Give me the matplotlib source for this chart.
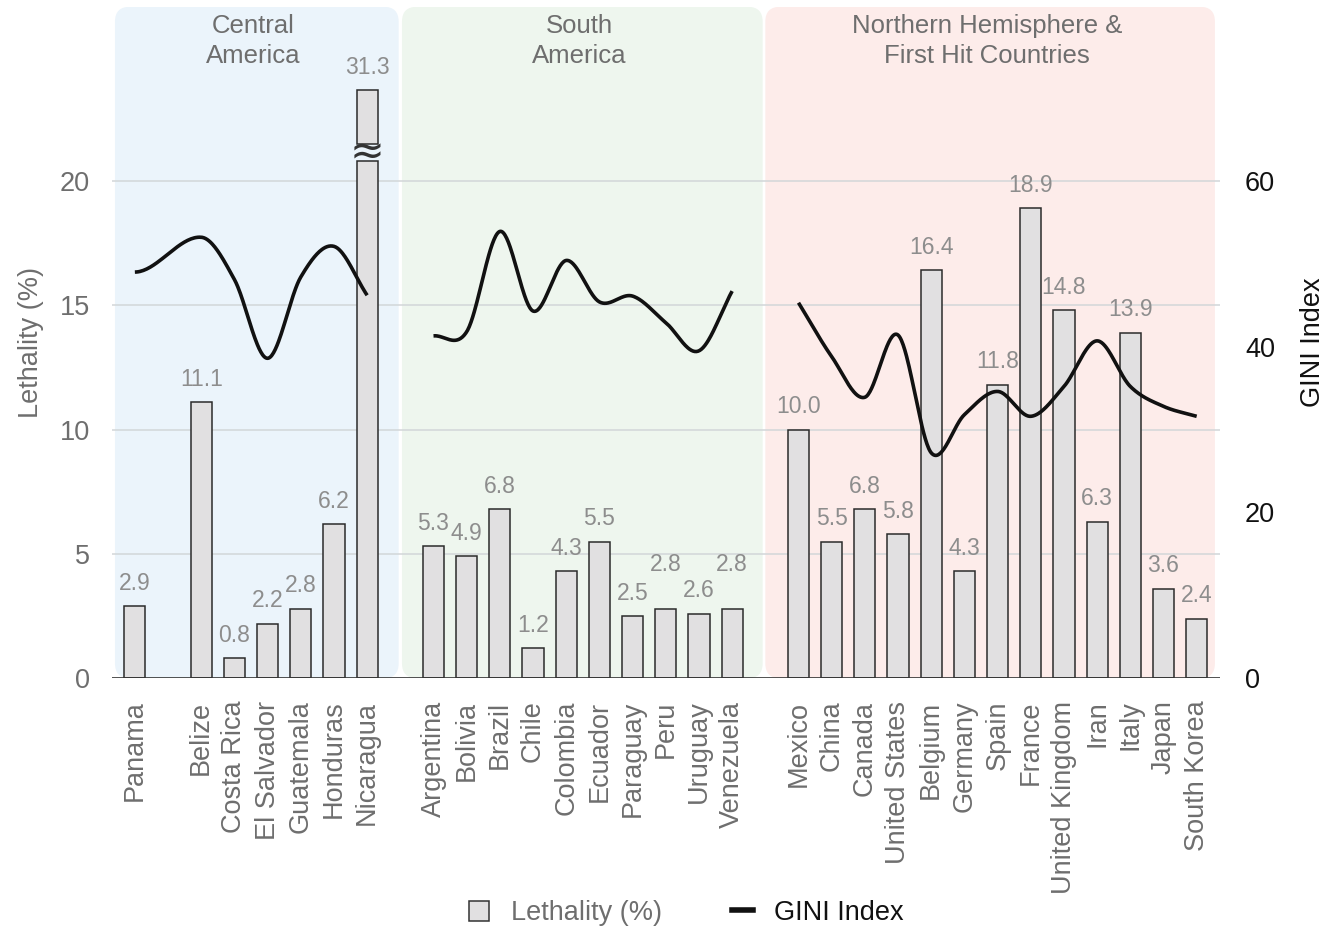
import numpy as np
import matplotlib.pyplot as plt
from matplotlib.patches import FancyBboxPatch, Patch
from matplotlib.lines import Line2D
from matplotlib.transforms import blended_transform_factory

plt.rcParams['font.family'] = ['Liberation Sans', 'DejaVu Sans']

# --- data ---
central = ['Panama', 'Belize', 'Costa Rica', 'El Salvador', 'Guatemala', 'Honduras', 'Nicaragua']
central_leth = [2.9, 11.1, 0.8, 2.2, 2.8, 6.2, 31.3]
central_gini = [49.0, 53.2, 48.1, 38.6, 48.4, 52.1, 46.2]

south = ['Argentina', 'Bolivia', 'Brazil', 'Chile', 'Colombia', 'Ecuador',
         'Paraguay', 'Peru', 'Uruguay', 'Venezuela']
south_leth = [5.3, 4.9, 6.8, 1.2, 4.3, 5.5, 2.5, 2.8, 2.6, 2.8]
south_gini = [41.3, 41.8, 53.9, 44.3, 50.4, 45.4, 46.1, 42.9, 39.5, 46.7]

north = ['Mexico', 'China', 'Canada', 'United States', 'Belgium', 'Germany', 'Spain',
         'France', 'United Kingdom', 'Iran', 'Italy', 'Japan', 'South Korea']
north_leth = [10.0, 5.5, 6.8, 5.8, 16.4, 4.3, 11.8, 18.9, 14.8, 6.3, 13.9, 3.6, 2.4]
north_gini = [45.3, 38.8, 33.9, 41.4, 27.2, 31.8, 34.6, 31.6, 35.2, 40.7, 35.2, 32.8, 31.6]

group_titles = ['Central\nAmerica', 'South\nAmerica', 'Northern Hemisphere &\nFirst Hit Countries']

# slot of each bar on the category axis (empty slots separate the groups)
central_x = np.array([0, 2, 3, 4, 5, 6, 7])
south_x = np.arange(9, 19)
north_x = np.arange(20, 33)

# panel spans and colours
panels = [(-0.6, 7.95, '#ebf4fb'), (8.05, 18.92, '#eef6ee'), (19.0, 32.55, '#fdecea')]

# broken bar for values beyond the scale
BREAK_LO, BREAK_HI, BREAK_TOP = 20.8, 21.5, 23.65

GREY_TXT = '#6e6e6e'
VAL_TXT = '#8d8d8d'


def smooth(xs, ys, flat_start=False, n=40):
    # cubic Hermite curve through the points (Catmull-Rom tangents)
    xs = np.asarray(xs, float)
    ys = np.asarray(ys, float)
    m = np.zeros(len(xs))
    m[1:-1] = (ys[2:] - ys[:-2]) / (xs[2:] - xs[:-2])
    m[0] = 0 if flat_start else (ys[1] - ys[0]) / (xs[1] - xs[0])
    m[-1] = (ys[-1] - ys[-2]) / (xs[-1] - xs[-2])
    px, py = [], []
    t = np.linspace(0, 1, n)
    h00 = 2 * t**3 - 3 * t**2 + 1
    h10 = t**3 - 2 * t**2 + t
    h01 = -2 * t**3 + 3 * t**2
    h11 = t**3 - t**2
    for i in range(len(xs) - 1):
        h = xs[i + 1] - xs[i]
        px.append(xs[i] + t * h)
        py.append(h00 * ys[i] + h10 * h * m[i] + h01 * ys[i + 1] + h11 * h * m[i + 1])
    return np.concatenate(px), np.concatenate(py)


fig = plt.figure(figsize=(13.41, 9.26), dpi=100)
ax = fig.add_axes([0.0835, 0.2675, 0.8262, 0.7252])
ax2 = ax.twinx()

ax.set_xlim(-0.69, 32.70)
ax.set_ylim(0, 27)
ax2.set_ylim(0, 81)

# background panels
for x0, x1, col in panels:
    p = FancyBboxPatch((x0, 0), x1 - x0, 27, boxstyle='round,pad=0,rounding_size=0.45',
                       mutation_aspect=1.33, fc=col, ec='none', zorder=0)
    ax.add_patch(p)

for gy in [5, 10, 15, 20]:
    ax.axhline(gy, color='#d2d6d8', lw=1.1, zorder=1)
ax.axhline(0, color='#333333', lw=1.2, zorder=4)

names = central + south + north
leth = np.array(central_leth + south_leth + north_leth)
xpos = np.concatenate([central_x, south_x, north_x])

bw = 0.64
shown = np.where(leth > BREAK_LO, BREAK_LO, leth)
ax.bar(xpos, shown, width=bw, color='#e1e0e1', edgecolor='#2b2b2b', linewidth=1.1, zorder=2)
big = leth > BREAK_TOP
if big.any():
    ax.bar(xpos[big], BREAK_TOP - BREAK_HI, bottom=BREAK_HI, width=bw, color='#e1e0e1',
           edgecolor='#2b2b2b', linewidth=1.1, zorder=2)
    for bx in xpos[big]:
        ax.text(bx, (BREAK_LO + BREAK_HI) / 2, '\u2248', ha='center', va='center',
                fontsize=30, color='#333333', zorder=3,
                family=['DejaVu Sans', 'Liberation Sans'])

# value labels
raised = {'Peru', 'Venezuela'}
for name, bx, v in zip(names, xpos, leth):
    top = BREAK_TOP if v > BREAK_TOP else v
    off = 32 if name in raised else 16.5
    ax.annotate(f'{v:.1f}', (bx, top), xytext=(0, off), textcoords='offset points',
                ha='center', va='center', fontsize=16.5, color=VAL_TXT, zorder=3)

# group titles
trans = blended_transform_factory(ax.transData, ax.transAxes)
for (x0, x1, _), title in zip(panels, group_titles):
    ax.text((x0 + x1) / 2 - 0.1, 0.949, title, transform=trans, ha='center', va='center',
            fontsize=18.5, color=GREY_TXT, linespacing=1.32)

# GINI curves
for gx, gy, flat in [(central_x, central_gini, True), (south_x, south_gini, False),
                     (north_x, north_gini, False)]:
    sx, sy = smooth(gx, gy, flat_start=flat)
    ax2.plot(sx, sy, color='#111111', lw=2.6, solid_capstyle='butt', zorder=5)

ax.set_xticks(xpos)
ax.set_xticklabels(names, rotation=90, fontsize=19.5, color=GREY_TXT)
ax.tick_params(axis='x', length=0, pad=16)
ax.set_yticks([0, 5, 10, 15, 20])
ax.tick_params(axis='y', length=0, pad=16, labelsize=19.5, labelcolor=GREY_TXT)
ax.set_ylabel('Lethality (%)', fontsize=19.5, color=GREY_TXT, labelpad=11)

ax2.set_yticks([0, 20, 40, 60])
ax2.tick_params(axis='y', length=0, pad=18, labelsize=19.5, labelcolor='#111111')
ax2.set_ylabel('GINI Index', fontsize=19.5, color='#111111', labelpad=18)

for a in (ax, ax2):
    for s in a.spines.values():
        s.set_visible(False)
ax.set_zorder(1)
ax2.set_zorder(2)
ax.patch.set_visible(False)
ax2.patch.set_visible(False)

handles = [Patch(fc='#e1e0e1', ec='#333333', lw=1.1),
           Line2D([0], [0], color='#111111', lw=4)]
leg = fig.legend(handles, ['Lethality (%)', 'GINI Index'], loc='center',
                 bbox_to_anchor=(0.512, 0.014), ncol=2, frameon=False, fontsize=19.5,
                 handlelength=0.75, handleheight=0.75, handletextpad=0.8, columnspacing=2.6)
leg.get_texts()[0].set_color(GREY_TXT)
leg.get_texts()[1].set_color('#111111')

fig.savefig('out.png', dpi=100)
